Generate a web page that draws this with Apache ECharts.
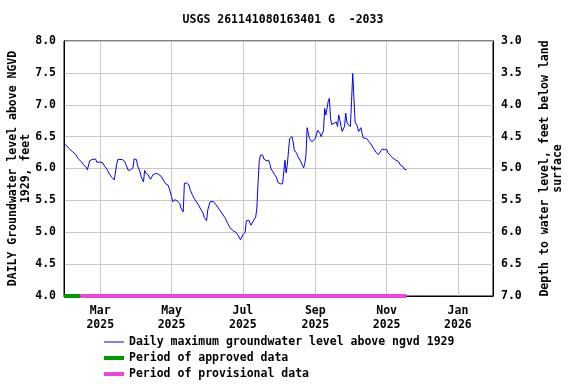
<!DOCTYPE html>
<html><head><meta charset="utf-8">
<script src="https://cdn.jsdelivr.net/npm/echarts@6/dist/echarts.min.js"></script>
<style>html,body{margin:0;padding:0;background:#fff}#c{width:576px;height:384px}</style>
</head><body><div id="c"></div>
<script>
const titleText = 'USGS 261141080163401 G  -2033';
const dates = ['2025-01-30','2025-01-31','2025-02-03','2025-02-05','2025-02-08','2025-02-10','2025-02-13','2025-02-15','2025-02-17','2025-02-18','2025-02-20','2025-02-22','2025-02-23','2025-02-25','2025-02-26','2025-03-01','2025-03-03','2025-03-05','2025-03-07','2025-03-09','2025-03-11','2025-03-13','2025-03-14','2025-03-15','2025-03-16','2025-03-20','2025-03-22','2025-03-23','2025-03-25','2025-03-27','2025-03-28','2025-03-29','2025-03-30','2025-04-01','2025-04-02','2025-04-04','2025-04-05','2025-04-07','2025-04-08','2025-04-09','2025-04-11','2025-04-13','2025-04-15','2025-04-17','2025-04-19','2025-04-22','2025-04-24','2025-04-26','2025-04-28','2025-04-29','2025-05-01','2025-05-02','2025-05-04','2025-05-05','2025-05-06','2025-05-08','2025-05-09','2025-05-11','2025-05-12','2025-05-14','2025-05-16','2025-05-17','2025-05-19','2025-05-21','2025-05-24','2025-05-26','2025-05-28','2025-05-29','2025-05-31','2025-06-01','2025-06-03','2025-06-04','2025-06-06','2025-06-08','2025-06-10','2025-06-11','2025-06-13','2025-06-16','2025-06-18','2025-06-20','2025-06-23','2025-06-25','2025-06-27','2025-06-29','2025-06-30','2025-07-01','2025-07-03','2025-07-04','2025-07-06','2025-07-07','2025-07-08','2025-07-10','2025-07-12','2025-07-13','2025-07-14','2025-07-15','2025-07-16','2025-07-18','2025-07-19','2025-07-21','2025-07-23','2025-07-24','2025-07-25','2025-07-28','2025-07-30','2025-07-31','2025-08-02','2025-08-04','2025-08-05','2025-08-06','2025-08-07','2025-08-08','2025-08-09','2025-08-10','2025-08-12','2025-08-13','2025-08-14','2025-08-16','2025-08-17','2025-08-19','2025-08-20','2025-08-21','2025-08-22','2025-08-23','2025-08-24','2025-08-25','2025-08-26','2025-08-27','2025-08-29','2025-08-30','2025-09-01','2025-09-02','2025-09-03','2025-09-05','2025-09-06','2025-09-08','2025-09-09','2025-09-10','2025-09-11','2025-09-12','2025-09-13','2025-09-14','2025-09-15','2025-09-16','2025-09-17','2025-09-19','2025-09-20','2025-09-21','2025-09-22','2025-09-23','2025-09-24','2025-09-25','2025-09-26','2025-09-27','2025-09-28','2025-09-29','2025-10-01','2025-10-02','2025-10-03','2025-10-04','2025-10-05','2025-10-06','2025-10-07','2025-10-08','2025-10-09','2025-10-10','2025-10-11','2025-10-12','2025-10-15','2025-10-17','2025-10-19','2025-10-21','2025-10-23','2025-10-25','2025-10-26','2025-10-28','2025-10-30','2025-11-01','2025-11-02','2025-11-04','2025-11-06','2025-11-09','2025-11-11','2025-11-13','2025-11-15','2025-11-16','2025-11-18'];
const levels = [6.38,6.35,6.30,6.27,6.22,6.16,6.10,6.05,6.02,5.98,6.12,6.14,6.12,6.15,6.10,6.10,6.09,6.03,5.98,5.91,5.86,5.82,5.80,6.06,6.14,6.14,6.11,6.06,5.97,5.98,6.00,6.01,6.15,6.14,6.04,5.95,5.87,5.79,5.97,5.93,5.90,5.83,5.90,5.92,5.92,5.88,5.82,5.76,5.74,5.69,5.56,5.48,5.51,5.48,5.49,5.45,5.38,5.32,5.77,5.77,5.74,5.66,5.58,5.51,5.43,5.36,5.30,5.23,5.18,5.35,5.48,5.51,5.48,5.43,5.38,5.35,5.30,5.22,5.14,5.07,5.02,5.00,4.95,4.88,4.89,4.96,5.00,5.18,5.19,5.17,5.11,5.18,5.24,5.38,5.77,6.11,6.21,6.21,6.15,6.12,6.13,6.08,6.00,5.91,5.85,5.78,5.76,5.76,5.77,6.13,5.93,6.05,6.26,6.47,6.50,6.42,6.29,6.24,6.19,6.13,6.11,6.05,6.01,6.08,6.21,6.64,6.62,6.47,6.42,6.41,6.47,6.47,6.60,6.55,6.50,6.60,6.94,6.84,6.94,7.05,7.10,6.79,6.69,6.68,6.71,6.73,6.66,6.84,6.76,6.66,6.58,6.60,6.66,6.87,6.73,6.69,6.66,7.05,7.49,7.12,6.73,6.71,6.66,6.58,6.60,6.64,6.55,6.48,6.47,6.42,6.37,6.31,6.25,6.22,6.25,6.30,6.30,6.30,6.25,6.21,6.17,6.13,6.11,6.05,6.03,5.99,5.98];
const approvedPeriod = ['2025-01-29','2025-02-12'];
const provisionalPeriod = ['2025-02-12','2025-11-18'];
const xRange = ['2025-01-29','2026-01-31'];
const leftTicks = [4.0, 8.0, 0.5];
const rightTicks = [3.0, 7.0, 0.5];
const monthNames = ['Jan','Feb','Mar','Apr','May','Jun','Jul','Aug','Sep','Oct','Nov','Dec'];
const seriesNames = ['Daily maximum groundwater level above ngvd 1929','Period of approved data','Period of provisional data'];
const seriesColors = ['#0000ff','#009900','#ee44dd'];

const FONT = 'DejaVu Sans Mono';
const txt = {fontFamily: FONT, fontSize: 11.5, fontWeight: 'bold', color: '#000'};
const thin = 'path://M0,0L20,0L20,1L0,1Z';
const thick = 'path://M0,0L20,0L20,4L0,4Z';
const chart = echarts.init(document.getElementById('c'), null, {renderer: 'canvas'});
chart.setOption({
  animation: false,
  backgroundColor: '#fff',
  title: {text: titleText, left: 278, top: 9, textAlign: 'center',
    textStyle: Object.assign({}, txt)},
  grid: {left: 64, right: 83, top: 41, bottom: 88, containLabel: false, outerBoundsMode: 'none',
    show: true, borderColor: '#000', borderWidth: 1, backgroundColor: 'transparent'},
  xAxis: {type: 'time', min: xRange[0], max: xRange[1], splitNumber: 6,
    axisLine: {show: true, lineStyle: {color: '#000'}}, axisTick: {show: false},
    splitLine: {show: true, lineStyle: {color: '#c8c8c8', width: 1}},
    axisLabel: Object.assign({}, txt, {margin: 8, lineHeight: 14, formatter: function (v) {
      const d = new Date(v); return monthNames[d.getMonth()] + '\n' + d.getFullYear();
    }})},
  yAxis: [
    {type: 'value', min: leftTicks[0], max: leftTicks[1], interval: leftTicks[2], position: 'left',
     name: 'DAILY Groundwater level above NGVD\n1929, feet', nameLocation: 'middle', nameGap: 31, nameMoveOverlap: false,
     nameTextStyle: Object.assign({}, txt, {lineHeight: 13}),
     axisLine: {show: true, lineStyle: {color: '#000'}}, axisTick: {show: false},
     splitLine: {show: true, lineStyle: {color: '#c8c8c8', width: 1}},
     axisLabel: Object.assign({}, txt, {margin: 8, formatter: v => v.toFixed(1)})},
    {type: 'value', min: rightTicks[0], max: rightTicks[1], interval: rightTicks[2], inverse: true, position: 'right',
     name: 'Depth to water level, feet below land\nsurface', nameLocation: 'middle', nameGap: 46, nameRotate: 90, nameMoveOverlap: false,
     nameTextStyle: Object.assign({}, txt, {lineHeight: 13}),
     axisLine: {show: true, lineStyle: {color: '#000'}}, axisTick: {show: false},
     splitLine: {show: false},
     axisLabel: Object.assign({}, txt, {margin: 8, formatter: v => v.toFixed(1)})}
  ],
  legend: {orient: 'vertical', left: 104, top: 336, padding: 0, itemWidth: 20, itemHeight: 12, itemGap: 4,
    symbolKeepAspect: true, textStyle: Object.assign({}, txt),
    data: seriesNames.map((n, i) => ({name: n, icon: i === 0 ? thin : thick, itemStyle: {color: seriesColors[i]}}))},
  series: [
    {name: seriesNames[0], type: 'line', yAxisIndex: 0, showSymbol: false, symbol: 'none',
     lineStyle: {color: seriesColors[0], width: 1}, itemStyle: {color: seriesColors[0]},
     data: dates.map((d, i) => [d, levels[i]])},
    {name: seriesNames[1], type: 'line', yAxisIndex: 0, symbol: 'none', z: 5,
     lineStyle: {color: seriesColors[1], width: 4}, itemStyle: {color: seriesColors[1]},
     data: approvedPeriod.map(d => [d, leftTicks[0]])},
    {name: seriesNames[2], type: 'line', yAxisIndex: 0, symbol: 'none', z: 5,
     lineStyle: {color: seriesColors[2], width: 4}, itemStyle: {color: seriesColors[2]},
     data: provisionalPeriod.map(d => [d, leftTicks[0]])}
  ]
});
</script></body></html>
